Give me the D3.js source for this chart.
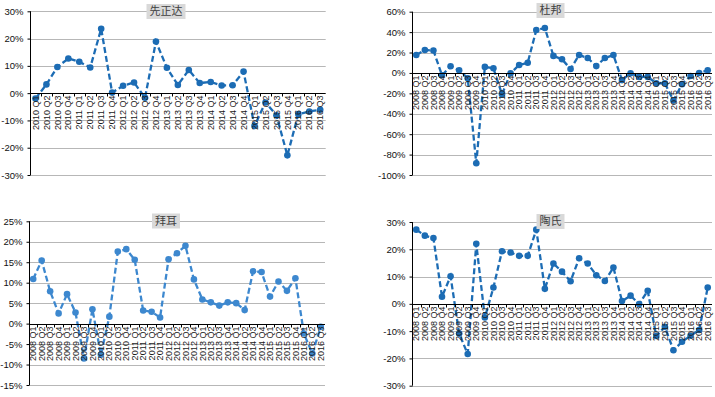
<!DOCTYPE html>
<html>
<head>
<meta charset="utf-8">
<script src="https://cdn.jsdelivr.net/npm/d3@7"></script>
<style>
  body { margin: 0; background: #fff; }
  svg { display: block; }
</style>
</head>
<body>
<div id="chart"></div>
<script>
// quarterly growth, %
const syngentaQuarters = { startYear: 2010, count: 27 };
const syngentaValues = [-2, 3.2, 9.6, 12.7, 11.5, 9.4, 23.6, 0.2, 2.7, 3.9, -1.7, 18.9, 9.3, 3.0,
  8.5, 3.7, 4.1, 2.8, 2.9, 7.9, -12, -3.4, -8.1, -22.8, -7.7, -6.7, -6.1];

const dupontQuarters = { startYear: 2008, count: 35 };
const dupontValues = [17.6, 22.5, 22, -2.3, 6.5, 2.6, -5.2, -88.5, 5.9, 4.6, -21, -0.3, 7.8, 10,
  42, 44, 16.7, 13.4, 3.9, 17.6, 14.6, 6.7, 14.6, 17.6, -7, -0.3, -3.9, -3.9, -10.1, -10.1, -27,
  -11, -3, 0, 2.6];

const bayerQuarters = { startYear: 2008, count: 35 };
const bayerValues = [10.9, 15.4, 7.9, 2.5, 7.2, 2.7, -8.5, 3.5, -7.6, 1.7, 17.6, 18.2, 15.6, 3.2,
  2.9, 1.5, 15.7, 17.2, 19, 10.8, 5.9, 5.2, 4.4, 5.2, 5, 3.3, 12.8, 12.6, 6.6, 10.3, 8, 11.1,
  -2.4, -7.3, -0.8];

const dowQuarters = { startYear: 2008, count: 35 };
const dowValues = [27.2, 25, 24.1, 2.6, 10.1, -10.9, -18.4, 22, -5, 6, 19.3, 18.8, 17.6, 17.6,
  27.2, 5.5, 14.8, 11.8, 8.3, 16.7, 14.8, 10.5, 8.4, 13.3, 1, 3, -0.1, 4.8, -11.8, -8.4, -17,
  -13.9, -11.7, -9.6, 6];

const syngentaTicks = [-30, -20, -10, 0, 10, 20, 30];
const dupontTicks = [-100, -80, -60, -40, -20, 0, 20, 40, 60];
const bayerTicks = [-15, -10, -5, 0, 5, 10, 15, 20, 25];
const dowTicks = [-30, -20, -10, 0, 10, 20, 30];

function quarterLabels(q) {
  const out = [];
  for (let i = 0; i < q.count; i++) {
    out.push((q.startYear + Math.floor(i / 4)) + ' Q' + (i % 4 + 1));
  }
  return out;
}

const W = 715, H = 397;
const svg = d3.select('#chart').append('svg')
  .attr('width', W)
  .attr('height', H);

const panels = [
  { title: '先正达', q: syngentaQuarters, vals: syngentaValues, ticks: syngentaTicks,
    x0: 30, x1: 325.7, yTop: 11.3, yBot: 175, titleX: 166, titleY: 11.5, color: '#1c6cb4' },
  { title: '杜邦', q: dupontQuarters, vals: dupontValues, ticks: dupontTicks,
    x0: 412, x1: 712, yTop: 11.7, yBot: 175, titleX: 550.5, titleY: 10.5, color: '#1c6cb4' },
  { title: '拜耳', q: bayerQuarters, vals: bayerValues, ticks: bayerTicks,
    x0: 29, x1: 325, yTop: 221.3, yBot: 385, titleX: 166, titleY: 221, color: '#3d88cf' },
  { title: '陶氏', q: dowQuarters, vals: dowValues, ticks: dowTicks,
    x0: 412, x1: 712, yTop: 222, yBot: 385.7, titleX: 550.5, titleY: 221.5, color: '#1c6cb4' }
];

panels.forEach(p => {
  const cats = quarterLabels(p.q);
  const g = svg.append('g');

  const x = d3.scaleBand().domain(cats).range([p.x0, p.x1]);
  const y = d3.scaleLinear()
    .domain([d3.min(p.ticks), d3.max(p.ticks)])
    .range([p.yBot, p.yTop]);

  // gridlines
  g.selectAll('.grid')
    .data(p.ticks.filter(t => t !== 0))
    .enter().append('line')
    .attr('x1', p.x0).attr('x2', p.x1)
    .attr('y1', d => Math.round(y(d)) + 0.5)
    .attr('y2', d => Math.round(y(d)) + 0.5)
    .attr('stroke', '#b7b7b7')
    .attr('stroke-width', 1);

  // y axis
  const yAxis = d3.axisLeft(y)
    .tickValues(p.ticks)
    .tickSize(3)
    .tickPadding(4)
    .tickFormat(d => d + '%');
  const ya = g.append('g')
    .attr('transform', `translate(${Math.round(p.x0) + 0.5},0)`)
    .call(yAxis);
  ya.select('.domain').attr('stroke', '#000').attr('d', `M0,${p.yTop}V${p.yBot}`);
  ya.selectAll('.tick line').attr('stroke', '#000');
  ya.selectAll('.tick text')
    .attr('fill', '#111')
    .style('font-family', '"Liberation Sans", Arial, sans-serif')
    .style('font-size', '9.5px');

  // series
  const line = d3.line()
    .x((d, i) => x(cats[i]) + x.bandwidth() / 2)
    .y(d => y(d));

  g.append('path')
    .datum(p.vals)
    .attr('d', line)
    .attr('fill', 'none')
    .attr('stroke', p.color)
    .attr('stroke-width', 2.3)
    .attr('stroke-dasharray', '6,3');

  g.selectAll('.dot')
    .data(p.vals)
    .enter().append('circle')
    .attr('cx', (d, i) => x(cats[i]) + x.bandwidth() / 2)
    .attr('cy', d => y(d))
    .attr('r', 3.3)
    .attr('fill', p.color);

  // category axis on the zero line
  const y0 = Math.round(y(0)) + 0.5;
  const xAxis = d3.axisBottom(x).tickSize(0).tickPadding(0);
  const xa = g.append('g')
    .attr('transform', `translate(0,${y0})`)
    .call(xAxis);
  xa.select('.domain').remove();
  xa.selectAll('.tick text')
    .attr('transform', 'rotate(-90)')
    .attr('x', -2)
    .attr('y', 0)
    .attr('dy', '0.35em')
    .attr('text-anchor', 'end')
    .attr('fill', '#1a1a1a')
    .style('font-family', '"Liberation Sans", Arial, sans-serif')
    .style('font-size', '9px');

  g.append('line')
    .attr('x1', p.x0).attr('x2', p.x1)
    .attr('y1', y0).attr('y2', y0)
    .attr('stroke', '#000')
    .attr('stroke-width', 1.2);

  g.selectAll('.xtick')
    .data(cats)
    .enter().append('line')
    .attr('x1', d => Math.round(x(d)) + 0.5)
    .attr('x2', d => Math.round(x(d)) + 0.5)
    .attr('y1', y0).attr('y2', y0 + 3)
    .attr('stroke', '#000');

  // title box
  const t = g.append('text')
    .attr('x', p.titleX)
    .attr('y', p.titleY)
    .attr('dy', '0.35em')
    .attr('text-anchor', 'middle')
    .attr('fill', '#404040')
    .style('font-family', '"Noto Sans CJK SC", sans-serif')
    .style('font-size', '11px')
    .text(p.title);
  const bb = t.node().getBBox();
  g.append('rect')
    .attr('x', bb.x - 3)
    .attr('y', p.titleY - 7.5)
    .attr('width', bb.width + 6)
    .attr('height', 15)
    .attr('fill', '#d9d9d9');
  t.raise();
});
</script>
</body>
</html>
